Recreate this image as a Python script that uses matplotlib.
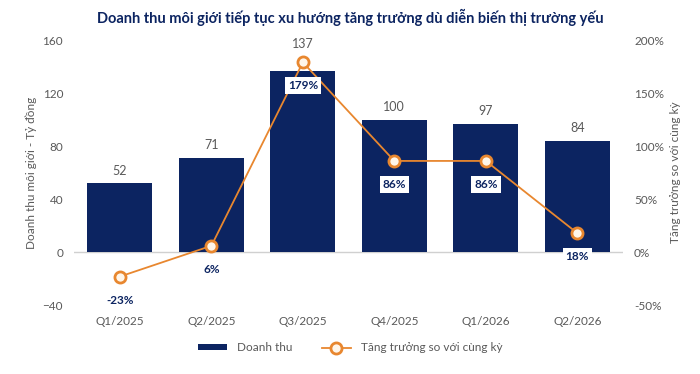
import numpy as np
from matplotlib import pyplot as plt, ticker as plticker

plt.rcParams["font.family"] = ["Lato", "DejaVu Sans"]

# Quarterly brokerage revenue and yoy growth
quarters = ["Q1/2025", "Q2/2025", "Q3/2025", "Q4/2025", "Q1/2026", "Q2/2026"]
revenue = [52, 71, 137, 100, 97, 84]
growth = [-23, 6, 179, 86, 86, 18]

navy = "#0c2461"
orange = "#e8872f"
grey = "#595959"


def draw_plot():
    fig = plt.figure(figsize=(7.0, 3.74), dpi=100)
    ax = fig.add_axes([0.106, 0.184, 0.784, 0.709])
    ax2 = ax.twinx()
    x = np.arange(len(quarters))

    ax.bar(x, revenue, width=0.71, color=navy, label="Doanh thu", zorder=2)
    for xi, v, g in zip(x, revenue, growth):
        # keep the value label clear of the growth marker
        top = max(v, g * 0.8 + 4)
        ax.text(xi, top + 5, str(v), ha="center", va="bottom", fontsize=9, color=grey)
    ax.axhline(0, color="#d0d0d0", lw=1, zorder=1)

    ax.set_xlim(-0.5, len(quarters) - 0.5)
    ax.set_ylim(-40, 160)
    ax.yaxis.set_major_locator(plticker.MultipleLocator(40))
    ax.set_xticks(x, quarters)
    ax.set_ylabel("Doanh thu môi giới - Tỷ đồng", fontsize=8.5, color=grey, labelpad=4)

    ax2.plot(x, growth, color=orange, lw=1.3, marker="o", markersize=8,
             markerfacecolor="#fff6ea", markeredgecolor=orange, markeredgewidth=2,
             label="Tăng trưởng so với cùng kỳ", zorder=3)
    for xi, g in zip(x, growth):
        ax2.annotate(f"{g}%", (xi, g), xytext=(0, -17), textcoords="offset points",
                     ha="center", va="center", fontsize=8.5, fontweight="bold", color=navy,
                     bbox=dict(boxstyle="square,pad=0.25", fc="white", ec="none"), zorder=4)
    ax2.set_ylim(-50, 200)
    ax2.yaxis.set_major_locator(plticker.MultipleLocator(50))
    ax2.yaxis.set_major_formatter(plticker.FuncFormatter(lambda v, p: f"{v:.0f}%"))
    ax2.set_ylabel("Tăng trưởng so với cùng kỳ", fontsize=8.5, color=grey, labelpad=4)

    for a in (ax, ax2):
        for s in a.spines.values():
            s.set_visible(False)
        a.tick_params(length=0, labelsize=8.5, colors=grey, pad=8)

    h1, l1 = ax.get_legend_handles_labels()
    h2, l2 = ax2.get_legend_handles_labels()
    fig.legend(h1 + h2, l1 + l2, loc="center", bbox_to_anchor=(0.5, 0.07), ncol=2,
               frameon=False, fontsize=8.5, labelcolor=grey, handlelength=2.5,
               handleheight=0.5, columnspacing=2.5)

    fig.suptitle("Doanh thu môi giới tiếp tục xu hướng tăng trưởng dù diễn biến thị trường yếu",
                 x=0.5, y=0.975, fontsize=10.5, fontweight="bold", color=navy)
    return fig


def save_plot():
    draw_plot()
    plt.savefig("out.png", dpi=100)
    return


if __name__ == "__main__":
    save_plot()
